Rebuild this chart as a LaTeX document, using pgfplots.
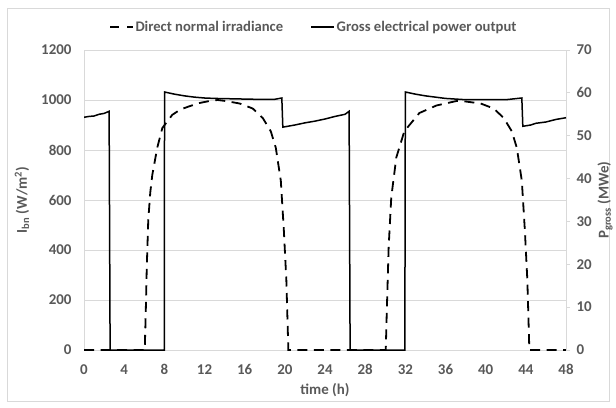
\documentclass[border=0pt]{standalone}
\usepackage{pgfplots}
\pgfplotsset{compat=1.18}
\usepackage{fontspec}
\setmainfont{Carlito}
\definecolor{txt}{HTML}{595959}
\definecolor{grd}{HTML}{D9D9D9}
\pgfplotstableread{
t v
0 0
6.05 0
6.15 150
6.25 330
6.4 520
6.6 630
6.8 700
7.3 810
7.8 888
8.8 941
9.6 962
10.5 975
11.5 988
12.5 996
13.3 1000
14.1 996
15.5 986
16.8 966
17.8 928
18.6 875
19.1 809
19.6 677
19.9 480
20.15 280
20.35 0
30.05 0
30.15 150
30.34 413
30.6 611
31.1 770
31.9 875
33.4 948
35.1 978
37.1 996
38.0 994
39.5 986
40.8 966
41.8 928
42.6 875
43.1 809
43.6 677
43.9 480
44.15 280
44.35 0
48 0
}\dni
\pgfplotstableread{
t p
0 54.3
0.5 54.5
1 54.6
1.5 55.0
2 55.2
2.5 55.7
2.6 0
8.0 0
8.02 60.2
9 59.7
10 59.3
11 59.0
12 58.8
13 58.7
15 58.6
17 58.5
19 58.5
19.7 58.8
19.8 52.0
21 52.5
22 53.0
23 53.4
24 53.9
25 54.5
26 55.0
26.4 55.7
26.5 0
31.95 0
32.0 60.2
33 59.7
34 59.3
35 59.0
36 58.7
38 58.4
40 58.4
42 58.4
43.6 58.8
43.7 52.2
44.5 52.5
45 52.9
46 53.2
47 53.8
48 54.2
}\pwr
\begin{document}
\begin{tikzpicture}[x=1bp,y=1bp]
\useasboundingbox (0,0) rectangle (616,407);
\draw[grd, line width=0.75bp] (7,6) rectangle (609,399);
\pgfplotsset{
  every axis/.append style={
    at={(84bp,57bp)}, anchor=south west, scale only axis,
    width=482bp, height=300bp, xmin=0, xmax=48,
    tick label style={font=\fontsize{15}{18}\selectfont\bfseries, text=txt},
    label style={font=\fontsize{15}{18}\selectfont\bfseries, text=txt},
    /pgf/number format/assume math mode=true,
    /pgf/number format/1000 sep={},
  }
}
\begin{axis}[
  ymin=0, ymax=1200,
  xtick={0,4,...,48}, ytick={0,200,...,1200},
  axis y line*=left, axis x line*=bottom,
  ymajorgrids, grid style={grd, line width=0.75bp},
  axis line style={grd, line width=0.75bp},
  tick style={draw=none},
  yticklabel style={xshift=-9bp},
  xticklabel style={yshift=-11bp},
  xlabel={time (h)}, ylabel={I\textsubscript{bn} (W/m\textsuperscript{2})},
  xlabel style={at={(axis description cs:0.5,-0.1333)}, anchor=center},
  ylabel style={at={(axis description cs:-0.1286,0.5)}, anchor=center},
]
\addplot[black, line width=1.8bp, dash pattern=on 10bp off 6.5bp] table[x=t,y=v] {\dni};
\end{axis}
\begin{axis}[
  ymin=0, ymax=70, ytick={0,10,...,70},
  axis y line*=right, axis x line=none,
  axis line style={grd, line width=0.75bp},
  tick style={grd, line width=0.75bp},
  major tick length=4bp, tick align=outside,
  yticklabel style={xshift=3bp},
  ylabel={P\textsubscript{gross} (MWe)},
  ylabel style={at={(axis description cs:1.081,0.5)}, anchor=center},
  legend style={draw=none, fill=none, inner sep=0pt, at={(0.0519,1.076)}, anchor=west,
    font=\fontsize{14.7}{17}\selectfont\bfseries, text=txt,
    nodes={inner xsep=1.5bp}, legend columns=2,
    /tikz/every even column/.append style={column sep=26bp}},
  legend image code/.code={\draw[#1] (0bp,0bp) -- (23bp,0bp);},
]
\addlegendimage{black, line width=1.8bp, dash pattern=on 9bp off 8bp}
\addlegendentry{Direct normal irradiance}
\addplot[black, line width=1.5bp] table[x=t,y=p] {\pwr};
\addlegendentry{Gross electrical power output}
\end{axis}
\end{tikzpicture}
\end{document}
